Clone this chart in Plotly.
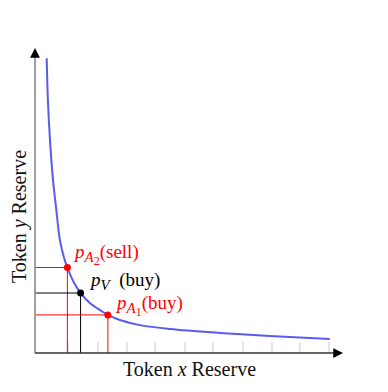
import plotly.graph_objects as go

# bonding curve (arbitrary reserve units)
curve_x = [0.39, 0.43, 0.50, 0.60, 0.70, 0.83, 0.97, 1.08, 1.27, 1.52, 1.83, 2.17,
           2.43, 2.83, 3.50, 4.50, 6.17, 7.83, 9.83]
curve_y = [9.83, 8.43, 7.10, 5.77, 4.87, 3.77, 3.17, 2.85, 2.40, 2.00, 1.67, 1.43,
           1.27, 1.10, 0.93, 0.80, 0.67, 0.57, 0.47]

# marked prices on the curve
point_names = ['A2', 'V', 'A1']
point_x = [1.08, 1.52, 2.43]
point_y = [2.85, 2.00, 1.27]
SUB = '<sub><span style="font-size:15px"><i>{0}</i></span></sub>'
SUBSUB = ('<sub><span style="font-size:15px"><i>{0}</i></span>'
          '<sub><span style="font-size:12px">{1}</span></sub></sub>')
point_labels = ['<i>p</i>' + SUBSUB.format('A', '2') + '(sell)',
                '<i>p</i>' + SUB.format('V') + '  (buy)',
                '<i>p</i>' + SUBSUB.format('A', '1') + '(buy)']
point_colors = ['#ff0000', '#000000', '#ff0000']

# faint tick marks along the bottom
faint_ticks = [1.1, 2.1, 3.07, 4.0, 5.0, 5.93, 6.93, 7.9, 8.83, 9.8]

SERIF = 'Liberation Serif'

fig = go.Figure()

fig.add_trace(go.Scatter(
    x=faint_ticks, y=[0.2] * len(faint_ticks), mode='markers',
    marker=dict(symbol='line-ns', size=7, line=dict(color='#e4e4e4', width=2)),
    hoverinfo='skip', showlegend=False))

# guide lines from each point to the axes
for px, py, c in zip(point_x, point_y, point_colors):
    fig.add_trace(go.Scatter(
        x=[0, px, px], y=[py, py, 0], mode='lines',
        line=dict(color=c, width=1), hoverinfo='skip', showlegend=False))

fig.add_trace(go.Scatter(
    x=curve_x, y=curve_y, mode='lines', line_shape='spline',
    line=dict(color='#5a5af0', width=2), showlegend=False))

fig.add_trace(go.Scatter(
    x=point_x, y=point_y, mode='markers', text=point_names,
    marker=dict(color=point_colors, size=7), showlegend=False))

shift = [(4, 13), (6, 12), (5, 9)]
for px, py, lab, c, (dx, dy) in zip(point_x, point_y, point_labels, point_colors, shift):
    fig.add_annotation(x=px, y=py, text=lab, showarrow=False,
                       xanchor='left', yanchor='middle', xshift=dx, yshift=dy,
                       font=dict(family=SERIF, size=19, color=c))

# axes with arrow heads
fig.add_shape(type='line', xref='paper', yref='paper', x0=0, y0=0, x1=0, y1=0.98,
              line=dict(color='#a0a0a0', width=2))
fig.add_shape(type='line', xref='paper', yref='paper', x0=0, y0=0, x1=0.98, y1=0,
              line=dict(color='#333333', width=1.5))
fig.add_annotation(xref='paper', yref='paper', x=0, y=1, ax=0, ay=8, text='',
                   showarrow=True, arrowhead=2, arrowsize=1.3, arrowwidth=1.5,
                   arrowcolor='#000000')
fig.add_annotation(xref='paper', yref='paper', x=1, y=0, ax=-8, ay=0, text='',
                   showarrow=True, arrowhead=2, arrowsize=1.3, arrowwidth=1.5,
                   arrowcolor='#000000')

fig.add_annotation(xref='paper', yref='paper', x=0.5, y=0, yshift=-16,
                   text='Token <i>x</i> Reserve', showarrow=False,
                   xanchor='center', yanchor='middle',
                   font=dict(family=SERIF, size=20, color='#111111'))
fig.add_annotation(xref='paper', yref='paper', x=0, y=0.446, xshift=-15,
                   text='Token <i>y</i> Reserve', showarrow=False, textangle=-90,
                   xanchor='center', yanchor='middle',
                   font=dict(family=SERIF, size=20, color='#111111'))

# page body has an 8px default margin, so the figure is drawn 8px smaller
fig.update_layout(
    width=380, height=384, autosize=False,
    margin=dict(l=27, r=45, t=40, b=39),
    paper_bgcolor='white', plot_bgcolor='white',
    xaxis=dict(range=[0, 10.27], visible=False, fixedrange=True),
    yaxis=dict(range=[0, 10.17], visible=False, fixedrange=True),
)

fig.write_html("out.html")
